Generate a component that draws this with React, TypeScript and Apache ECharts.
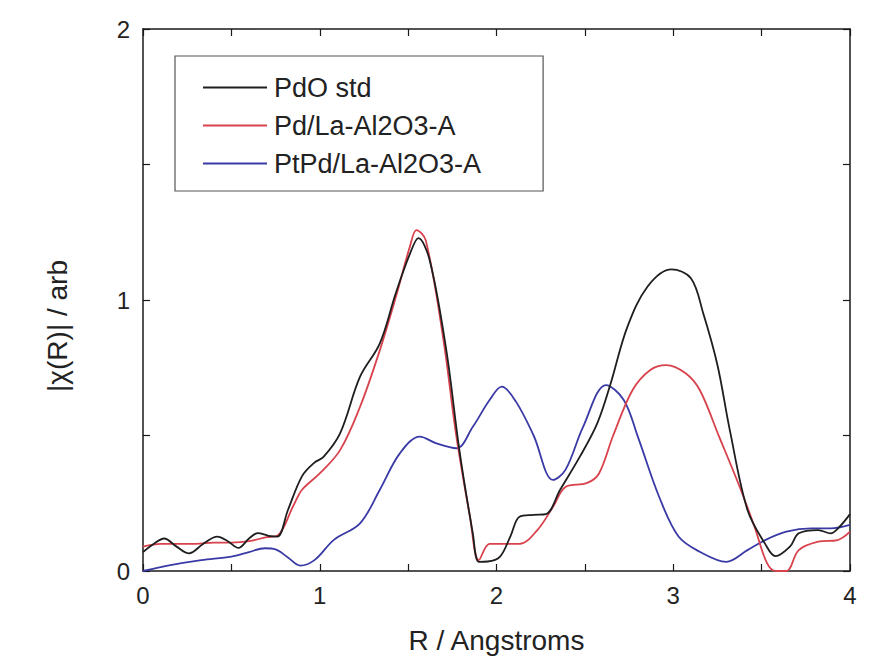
import React, { useEffect, useRef } from "react";
import * as echarts from "echarts";

const seriesNames = ["PdO std", "Pd/La-Al2O3-A", "PtPd/La-Al2O3-A"];
const seriesColors = ["#1e1e1e", "#d8424c", "#3a3aa6"];

const pdoR = [0, 0.06, 0.12, 0.19, 0.26, 0.34, 0.42, 0.48, 0.54, 0.6, 0.65, 0.71, 0.76, 0.82, 0.9, 0.97, 1.02, 1.115, 1.228, 1.34, 1.43, 1.51, 1.558, 1.622, 1.716, 1.79, 1.866, 1.9, 1.95, 2.02, 2.08, 2.13, 2.21, 2.28, 2.36, 2.47, 2.57, 2.645, 2.74, 2.855, 2.99, 3.1, 3.17, 3.25, 3.32, 3.42, 3.52, 3.578, 3.66, 3.71, 3.82, 3.89, 3.94, 4.0];
const pdoY = [0.07, 0.1, 0.12, 0.09, 0.065, 0.1, 0.127, 0.11, 0.085, 0.12, 0.14, 0.13, 0.127, 0.225, 0.35, 0.4, 0.42, 0.508, 0.717, 0.84, 1.025, 1.17, 1.228, 1.147, 0.815, 0.446, 0.139, 0.034, 0.035, 0.053, 0.13, 0.2, 0.207, 0.21, 0.3, 0.42, 0.545, 0.69, 0.9, 1.05, 1.113, 1.08, 0.95, 0.76, 0.52, 0.225, 0.1, 0.055, 0.09, 0.139, 0.151, 0.139, 0.163, 0.21];

const pdR = [0, 0.1, 0.2, 0.3, 0.4, 0.5, 0.6, 0.7, 0.76, 0.85, 0.9, 1.0, 1.115, 1.228, 1.34, 1.43, 1.51, 1.547, 1.6, 1.7, 1.77, 1.85, 1.9, 1.96, 2.02, 2.13, 2.23, 2.32, 2.39, 2.51, 2.58, 2.66, 2.77, 2.87, 2.96, 3.07, 3.15, 3.26, 3.37, 3.46, 3.53, 3.58, 3.64, 3.71, 3.82, 3.93, 4.0];
const pdY = [0.09, 0.1, 0.1, 0.1, 0.105, 0.105, 0.11, 0.125, 0.13, 0.24, 0.3, 0.36, 0.446, 0.606, 0.815, 1.01, 1.197, 1.258, 1.22, 0.852, 0.51, 0.2, 0.04, 0.1, 0.1, 0.1, 0.15, 0.237, 0.31, 0.324, 0.36, 0.5, 0.668, 0.742, 0.76, 0.73, 0.668, 0.495, 0.32, 0.163, 0.03, 0.0, 0.0, 0.077, 0.108, 0.114, 0.145];

const ptpdR = [0, 0.14, 0.33, 0.5, 0.6, 0.69, 0.75, 0.82, 0.89, 0.97, 1.08, 1.228, 1.34, 1.453, 1.566, 1.66, 1.773, 1.866, 1.96, 2.03, 2.11, 2.21, 2.32, 2.39, 2.49, 2.62, 2.72, 2.8, 2.92, 3.03, 3.15, 3.3, 3.42, 3.52, 3.64, 3.78, 3.89, 4.0];
const ptpdY = [0.0, 0.02, 0.04, 0.053, 0.07, 0.084, 0.08, 0.05, 0.02, 0.04, 0.115, 0.176, 0.3, 0.434, 0.496, 0.471, 0.453, 0.532, 0.63, 0.68, 0.625, 0.5, 0.336, 0.373, 0.532, 0.686, 0.631, 0.495, 0.274, 0.127, 0.071, 0.034, 0.077, 0.114, 0.145, 0.157, 0.157, 0.17];

const xTickLabels = ["0", "1", "2", "3", "4"];
const yTickLabels = ["0", "1", "2"];

const FONT = "'Liberation Sans', Arial, Helvetica, sans-serif";

function zip(xs: number[], ys: number[]) {
  return xs.map((x, i) => [x, ys[i]]);
}

export default function App() {
  const ref = useRef<HTMLDivElement>(null);
  useEffect(() => {
    if (!ref.current) return;
    const chart = echarts.init(ref.current, null, { renderer: "svg" });
    const axisLine = { show: true, onZero: false, lineStyle: { color: "#1a1a1a", width: 1.5 } };
    const tick = { show: true, inside: true, length: 7, lineStyle: { color: "#1a1a1a", width: 1.2 } };
    const xLabelFmt = (v: number) => (Number.isInteger(v) ? xTickLabels[v] ?? "" : "");
    const yLabelFmt = (v: number) => (Number.isInteger(v) ? yTickLabels[v] ?? "" : "");
    const data = [zip(pdoR, pdoY), zip(pdR, pdY), zip(ptpdR, ptpdY)];
    chart.setOption({
      animation: false,
      backgroundColor: "#ffffff",
      textStyle: { fontFamily: FONT },
      grid: { left: 143, right: 27, top: 29, bottom: 92, containLabel: false },
      legend: {
        show: true,
        orient: "vertical",
        left: 175,
        top: 56,
        data: seriesNames,
        icon: "rect",
        itemWidth: 64,
        itemHeight: 2,
        itemGap: 11,
        itemStyle: { borderWidth: 0 },
        padding: [18, 62, 14, 28],
        borderColor: "#555555",
        borderWidth: 1.2,
        backgroundColor: "#ffffff",
        textStyle: { fontSize: 27, color: "#222222", fontFamily: FONT, lineHeight: 26, padding: [0, 0, 0, 2] },
      },
      xAxis: [
        {
          type: "value",
          min: 0,
          max: 4,
          interval: 0.5,
          position: "bottom",
          name: "R / Angstroms",
          nameLocation: "middle",
          nameGap: 55,
          nameTextStyle: { fontSize: 28, color: "#222222", fontFamily: FONT },
          axisLine,
          axisTick: tick,
          axisLabel: { show: true, margin: 12, fontSize: 24, color: "#222222", fontFamily: FONT, formatter: xLabelFmt },
          splitLine: { show: false },
        },
        {
          type: "value",
          min: 0,
          max: 4,
          interval: 0.5,
          position: "top",
          axisLine,
          axisTick: tick,
          axisLabel: { show: false },
          splitLine: { show: false },
        },
      ],
      yAxis: [
        {
          type: "value",
          min: 0,
          max: 2,
          interval: 0.5,
          position: "left",
          name: "|χ(R)| / arb",
          nameLocation: "middle",
          nameGap: 72,
          nameTextStyle: { fontSize: 28, color: "#222222", fontFamily: FONT, padding: [0, 52, 0, 0] },
          axisLine,
          axisTick: tick,
          axisLabel: { show: true, margin: 13, fontSize: 24, color: "#222222", fontFamily: FONT, formatter: yLabelFmt },
          splitLine: { show: false },
        },
        {
          type: "value",
          min: 0,
          max: 2,
          interval: 0.5,
          position: "right",
          axisLine,
          axisTick: tick,
          axisLabel: { show: false },
          splitLine: { show: false },
        },
      ],
      series: seriesNames.map((name, i) => ({
        name,
        type: "line",
        xAxisIndex: 0,
        yAxisIndex: 0,
        data: data[i],
        smooth: 0.35,
        symbol: "none",
        showSymbol: false,
        color: seriesColors[i],
        lineStyle: { color: seriesColors[i], width: 1.8 },
        z: 3 - i,
      })),
    });
    return () => chart.dispose();
  }, []);
  return <div ref={ref} style={{ width: 877, height: 663, position: "absolute", left: 0, top: 0 }} />;
}
